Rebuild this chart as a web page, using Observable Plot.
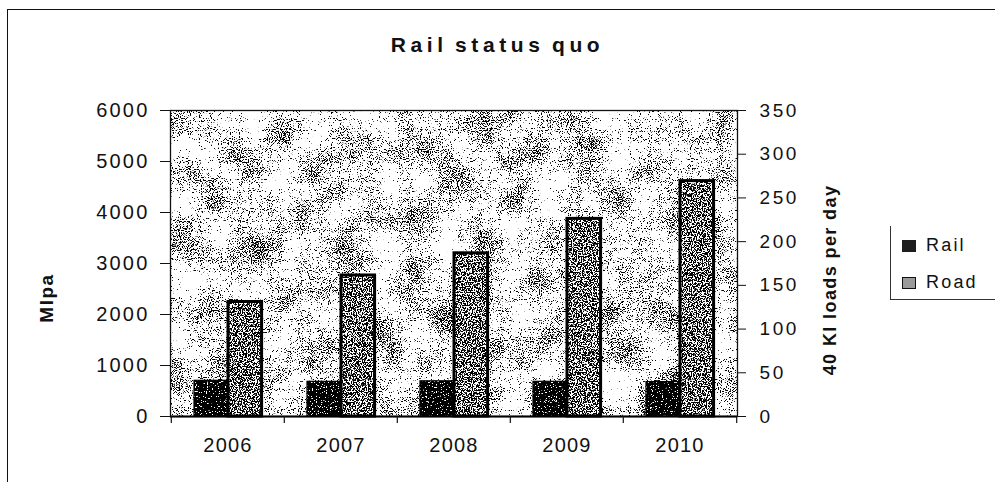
<!DOCTYPE html>
<html>
<head>
<meta charset="utf-8">
<script src="https://cdn.jsdelivr.net/npm/d3@7"></script>
<script src="https://cdn.jsdelivr.net/npm/@observablehq/plot@0.6"></script>
<style>
  body { margin: 0; background: #fff; font-family: "Liberation Sans", Arial, sans-serif; }
  #wrap { position: relative; width: 995px; height: 482px; overflow: hidden; background: #fff; }
  #outer { position: absolute; left: 7px; top: 9px; width: 990px; height: 480px;
           border-top: 1.5px solid #111; border-left: 1.5px solid #111; }
  #title { position: absolute; left: 0; width: 995px; top: 33px; text-align: center;
           font-weight: bold; font-size: 21px; letter-spacing: 4.6px; word-spacing: -3px; color: #111; }
  .vlabel { position: absolute; font-weight: bold; color: #111; white-space: nowrap;
            transform: translate(-50%, -50%) rotate(-90deg); }
  #legend { position: absolute; left: 890px; top: 226px; width: 120px; height: 73px;
            border-left: 1.2px solid #333; border-bottom: 1.2px solid #333; }
  .item { position: absolute; left: 11px; font-size: 18px; letter-spacing: 2.2px; color: #111; }
  .sw { display: inline-block; width: 14px; height: 12px; margin-right: 10px; vertical-align: -1px; }
  #chart { position: absolute; left: 0; top: 0; }
</style>
</head>
<body>
<svg width="0" height="0" style="position:absolute">
  <defs>
    <filter id="bgTex" filterUnits="userSpaceOnUse" x="0" y="0" width="995" height="482" color-interpolation-filters="sRGB">
      <feTurbulence type="fractalNoise" baseFrequency="0.9" numOctaves="1" seed="5" result="fine"/>
      <feColorMatrix in="fine" type="matrix" values="0 0 0 0 0  0 0 0 0 0  0 0 0 0 0  1 0 0 0 0" result="fa"/>
      <feTurbulence type="fractalNoise" baseFrequency="0.03" numOctaves="3" seed="9" result="coarse"/>
      <feColorMatrix in="coarse" type="matrix" values="0 0 0 0 0  0 0 0 0 0  0 0 0 0 0  1 0 0 0 0" result="ca"/>
      <feComposite in="fa" in2="ca" operator="arithmetic" k1="0" k2="0.8" k3="0.35" k4="0" result="sum"/>
      <feComponentTransfer in="sum" result="dots"><feFuncA type="linear" slope="25" intercept="-16.3"/></feComponentTransfer>
      <feFlood flood-color="#ffffff" result="w"/>
      <feComposite in="dots" in2="w" operator="over" result="bw"/>
      <feComposite in="bw" in2="SourceGraphic" operator="in"/>
    </filter>
    <filter id="roadTex" filterUnits="userSpaceOnUse" x="0" y="0" width="995" height="482" color-interpolation-filters="sRGB">
      <feTurbulence type="fractalNoise" baseFrequency="0.8" numOctaves="2" seed="3" result="n"/>
      <feColorMatrix in="n" type="matrix" values="0 0 0 0 0  0 0 0 0 0  0 0 0 0 0  1 0 0 0 0" result="a"/>
      <feComponentTransfer in="a" result="dots"><feFuncA type="linear" slope="25" intercept="-11.8"/></feComponentTransfer>
      <feFlood flood-color="#ffffff" result="w"/>
      <feComposite in="dots" in2="w" operator="over" result="bw"/>
      <feComposite in="bw" in2="SourceGraphic" operator="in"/>
    </filter>
    <filter id="railTex" filterUnits="userSpaceOnUse" x="0" y="0" width="995" height="482" color-interpolation-filters="sRGB">
      <feTurbulence type="fractalNoise" baseFrequency="0.8" numOctaves="2" seed="11" result="n"/>
      <feColorMatrix in="n" type="matrix" values="0 0 0 0 1  0 0 0 0 1  0 0 0 0 1  1 0 0 0 0" result="a"/>
      <feComponentTransfer in="a" result="dots"><feFuncA type="linear" slope="25" intercept="-16"/></feComponentTransfer>
      <feFlood flood-color="#000000" result="k"/>
      <feComposite in="dots" in2="k" operator="over" result="bw"/>
      <feComposite in="bw" in2="SourceGraphic" operator="in"/>
    </filter>
  </defs>
</svg>
<div id="wrap">
  <div id="outer"></div>
  <div id="chart"></div>
  <div id="title">Rail status quo</div>
  <div class="vlabel" style="left:47px; top:298px; font-size:19px; letter-spacing:1.5px;">Mlpa</div>
  <div class="vlabel" style="left:830px; top:280px; font-size:18px; letter-spacing:1.4px;">40 Kl loads per day</div>
  <div id="legend">
    <div class="item" style="top:9px;"><span class="sw" style="background:#1e1e1e;"></span>Rail</div>
    <div class="item" style="top:46px;"><span class="sw" style="background:#9a9a9a; border:1px solid #111; width:12px; height:10px;"></span>Road</div>
  </div>
</div>
<script>
const years = ["2006", "2007", "2008", "2009", "2010"];
const railValues = [700, 680, 690, 680, 675];
const roadValues = [2245, 2765, 3200, 3875, 4615];
const leftTicks = [0, 1000, 2000, 3000, 4000, 5000, 6000];
const rightTicks = [0, 50, 100, 150, 200, 250, 300, 350];
const leftMax = 6000;
const rightMax = 350;

const rail = years.map((y, i) => ({year: y, value: railValues[i]}));
const road = years.map((y, i) => ({year: y, value: roadValues[i]}));

const step = (995 - 170 - 258) / years.length;

const chart = Plot.plot({
  width: 995,
  height: 482,
  marginTop: 110,
  marginBottom: 66,
  marginLeft: 170,
  marginRight: 258,
  style: {fontFamily: '"Liberation Sans", Arial, sans-serif', color: "#111", background: "transparent"},
  x: {domain: years, padding: 0, axis: null},
  y: {domain: [0, leftMax], axis: null},
  marks: [
    Plot.frame({fill: "white"}),
    Plot.barY(road, {x: "year", y: "value", fill: "white", insetLeft: 57, insetRight: 22.4}),
    Plot.barY(rail, {x: "year", y: "value", fill: "black", insetLeft: 23, insetRight: 56.4}),
    Plot.barY(road, {x: "year", y: "value", fill: "none", stroke: "#000", strokeWidth: 3, insetLeft: 57, insetRight: 22.4}),
    Plot.barY(rail, {x: "year", y: "value", fill: "none", stroke: "#000", strokeWidth: 1.2, insetLeft: 23, insetRight: 56.4}),
    Plot.frame({stroke: "#111", strokeWidth: 1.3}),
    Plot.ruleY([0], {stroke: "#000", strokeWidth: 1.8}),
    Plot.axisY({anchor: "left", ticks: leftTicks, tickFormat: d => String(d), tickSize: 10, tickPadding: 11, fontSize: 20, label: null}),
    Plot.axisY({anchor: "right", ticks: rightTicks.map(v => v * leftMax / rightMax),
                tickFormat: v => String(Math.round(v * rightMax / leftMax)),
                tickSize: 8, tickPadding: 14, fontSize: 19, label: null}),
    Plot.axisX({anchor: "bottom", tickSize: 0, tickPadding: 21, fontSize: 20, label: null}),
    Plot.ruleX(years, {x: d => d, dx: -step / 2, insetTop: 306, insetBottom: -7, stroke: "#111", strokeWidth: 1.2}),
    Plot.ruleX(years.slice(-1), {x: d => d, dx: step / 2, insetTop: 306, insetBottom: -7, stroke: "#111", strokeWidth: 1.2})
  ]
});
document.getElementById("chart").appendChild(chart);

const svg = d3.select(chart);
svg.selectAll('[aria-label="frame"]').filter((d, i) => i === 0).attr("filter", "url(#bgTex)");
const bars = svg.selectAll('[aria-label="bar"]').nodes();
if (bars[0]) bars[0].setAttribute("filter", "url(#roadTex)");
if (bars[1]) bars[1].setAttribute("filter", "url(#railTex)");
const labels = svg.selectAll('[aria-label="y-axis tick label"]').nodes();
if (labels[0]) labels[0].style.letterSpacing = "2.2px";
if (labels[1]) labels[1].style.letterSpacing = "2.6px";
svg.selectAll('[aria-label="x-axis tick label"]').style("letter-spacing", "1.2px");
</script>
</body>
</html>
